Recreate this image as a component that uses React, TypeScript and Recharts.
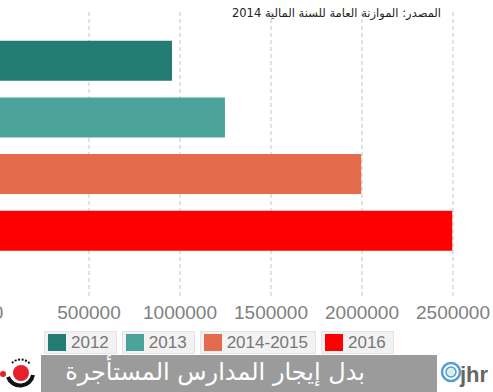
import React from 'react';
import { BarChart, Bar, XAxis, YAxis, CartesianGrid, Cell } from 'recharts';

const categories = ['2012', '2013', '2014-2015', '2016'];
const values = [956000, 1247000, 1996000, 2496000];
const colors = ['#237c71', '#4ba298', '#e56b4d', '#ff0000'];
const xTicks = [0, 500000, 1000000, 1500000, 2000000, 2500000];
const sourceText = 'المصدر: الموازنة العامة للسنة المالية 2014';
const bannerTitle = 'بدل إيجار المدارس المستأجرة';

const data = categories.map((c, i) => ({ name: c, value: values[i] }));

export default function App() {
  return (
    <div
      style={{
        position: 'absolute',
        left: 0,
        top: 0,
        width: 493,
        height: 392,
        overflow: 'hidden',
        background: '#ffffff',
        fontFamily: '"Liberation Sans", Arial, sans-serif',
      }}
    >
      <div style={{ position: 'absolute', left: -40, top: 0 }}>
        <BarChart
          width={594}
          height={340}
          layout="vertical"
          data={data}
          margin={{ top: 12, right: 10, bottom: 13, left: 38 }}
        >
          <CartesianGrid horizontal={false} vertical stroke="#c4c4c4" strokeDasharray="4 3" />
          <XAxis
            type="number"
            domain={[0, 3000000]}
            ticks={xTicks}
            axisLine={false}
            tickLine={false}
            height={30}
            tickMargin={3}
            tick={{ fontSize: 19, fill: '#808080', fontFamily: '"Liberation Sans", Arial, sans-serif' }}
            interval={0}
          />
          <YAxis type="category" dataKey="name" hide padding={{ top: 20.7, bottom: 37.6 }} />
          <Bar dataKey="value" barSize={40} isAnimationActive={false}>
            {data.map((d, i) => (
              <Cell key={d.name} fill={colors[i]} />
            ))}
          </Bar>
        </BarChart>
      </div>

      <div
        style={{
          position: 'absolute',
          right: 493 - 441,
          top: 6,
          fontSize: 11.5,
          color: '#222',
          direction: 'rtl',
          whiteSpace: 'nowrap',
          fontFamily: '"DejaVu Sans", Arial, sans-serif',
        }}
      >
        {sourceText}
      </div>

      <div style={{ position: 'absolute', left: 44, top: 331, display: 'flex', gap: 5 }}>
        {categories.map((c, i) => (
          <div
            key={c}
            style={{
              display: 'flex',
              alignItems: 'center',
              height: 23,
              padding: '0 7px 0 3px',
              background: '#f2f2f2',
              border: '1px solid #e4e4e4',
              boxSizing: 'border-box',
            }}
          >
            <div style={{ width: 18, height: 17, background: colors[i], marginRight: 5 }} />
            <span style={{ fontSize: 17, color: '#777', lineHeight: '17px' }}>{c}</span>
          </div>
        ))}
      </div>

      <div
        style={{
          position: 'absolute',
          left: 41,
          top: 355,
          width: 396,
          height: 37,
          background: '#9b9b9b',
        }}
      >
        <div
          style={{
            position: 'absolute',
            left: 29,
            width: 295,
            top: 0,
            height: 37,
            lineHeight: '34px',
            textAlign: 'center',
            color: '#ffffff',
            fontSize: 24,
            direction: 'rtl',
            whiteSpace: 'nowrap',
            fontFamily: '"DejaVu Sans", Arial, sans-serif',
          }}
        >
          {bannerTitle}
        </div>
      </div>

      <svg style={{ position: 'absolute', left: 0, top: 355 }} width={41} height={37}>
        <rect x={0} y={0} width={41} height={37} fill="#ffffff" />
        <path d="M 8 22 A 13 13 0 0 0 33 20" stroke="#111" strokeWidth={4} fill="none" />
        <path d="M 12 8 A 12 12 0 0 1 30 9" stroke="#111" strokeWidth={2} strokeDasharray="2 1.5" fill="none" />
        <circle cx={21} cy={18} r={8} fill="#e8202a" />
        <circle cx={3} cy={19} r={3} fill="#e8202a" />
      </svg>

      <svg style={{ position: 'absolute', left: 440, top: 355 }} width={53} height={37}>
        <rect x={0} y={0} width={53} height={37} fill="#ffffff" />
        <circle cx={11} cy={17} r={9} stroke="#4f9fd6" strokeWidth={2.5} fill="none" />
        <circle cx={11} cy={17} r={5} stroke="#4f9fd6" strokeWidth={1.5} fill="#dff0e0" />
        <text x={20} y={27} fontSize={22} fontWeight="bold" fill="#666" fontFamily='"Liberation Sans", Arial, sans-serif'>
          jhr
        </text>
      </svg>
    </div>
  );
}
